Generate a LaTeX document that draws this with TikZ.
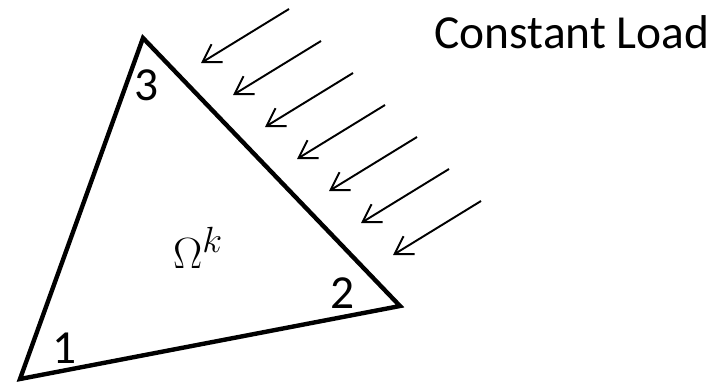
\documentclass[tikz,border=0pt]{standalone}
\usepackage{fontspec}
\setmainfont{Carlito}
\usepackage{tikz}
\usetikzlibrary{arrows.meta, positioning, calc}
\tikzset{
  element/.style={
    draw=black, line width=2.5pt, line join=miter
  },
  vlabel/.style={
    inner sep=0pt, font=\fontsize{27}{32}\selectfont
  },
  load/.style={
    line width=1.1pt, -{Straight Barb[length=0.34cm, width=0.42cm, line width=1.1pt]}
  },
}

\begin{document}
\begin{tikzpicture}[x=0.02cm, y=-0.02cm]
  \useasboundingbox (0,0) rectangle (716,386);

  % triangle corners
  \coordinate (v1) at (20,379);
  \coordinate (v2) at (400,306);
  \coordinate (v3) at (143,38);
  \draw [element] (v1) -- (v2) -- (v3) -- cycle;

  \node (n1)    [vlabel] at (65,348)  {1};
  \node (n2)    [vlabel] at (343,293) {2};
  \node (n3)    [vlabel] at (147,85)  {3};
  \node (omega) [vlabel, font=\fontsize{31}{36}\selectfont] at (198,248) {$\Omega^k$};

  % load arrows
  \coordinate (s1) at (289,9);   \coordinate (t1) at (201,63);
  \coordinate (s2) at (321,41);  \coordinate (t2) at (233,95);
  \coordinate (s3) at (353,73);  \coordinate (t3) at (265,127);
  \coordinate (s4) at (385,105); \coordinate (t4) at (297,159);
  \coordinate (s5) at (417,137); \coordinate (t5) at (329,191);
  \coordinate (s6) at (449,169); \coordinate (t6) at (361,223);
  \coordinate (s7) at (481,201); \coordinate (t7) at (393,255);

  \draw [load] (s1) -- (t1);
  \draw [load] (s2) -- (t2);
  \draw [load] (s3) -- (t3);
  \draw [load] (s4) -- (t4);
  \draw [load] (s5) -- (t5);
  \draw [load] (s6) -- (t6);
  \draw [load] (s7) -- (t7);

  \node (title) [vlabel, anchor=base] at (572,48) {Constant Load};
\end{tikzpicture}
\end{document}
